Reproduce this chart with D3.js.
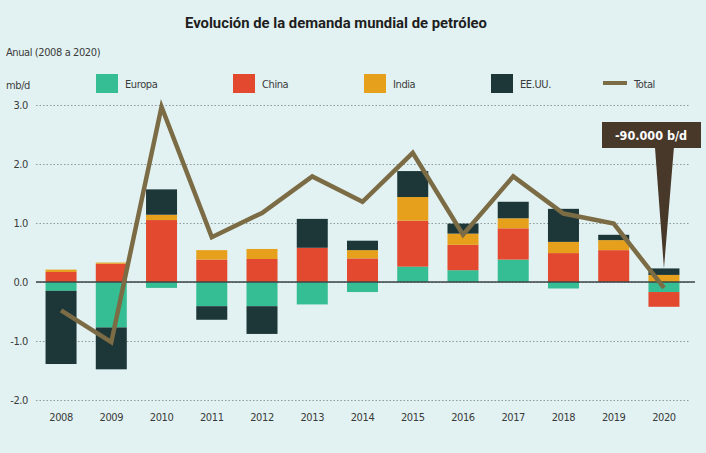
<!DOCTYPE html>
<html>
<head>
<meta charset="utf-8">
<script src="https://cdn.jsdelivr.net/npm/d3@7"></script>
<style>
  body { margin: 0; background: #e2f2f2; }
  svg { display: block; }
  .tick-label { font-family: "DejaVu Sans Condensed", "DejaVu Sans", sans-serif; font-stretch: condensed; font-size: 11px; letter-spacing: -0.4px; fill: #3b3b3b; }
</style>
</head>
<body>
<svg id="chart"></svg>
<script>
// data (mb/d)
const years = [2008, 2009, 2010, 2011, 2012, 2013, 2014, 2015, 2016, 2017, 2018, 2019, 2020];
const europa = [-0.15, -0.77, -0.10, -0.41, -0.41, -0.38, -0.17, 0.26, 0.20, 0.38, -0.11, 0.00, -0.17];
const china  = [0.17, 0.31, 1.05, 0.38, 0.39, 0.58, 0.40, 0.78, 0.43, 0.53, 0.49, 0.54, -0.25];
const india  = [0.04, 0.02, 0.09, 0.16, 0.17, 0.00, 0.14, 0.40, 0.19, 0.17, 0.19, 0.17, 0.12];
const eeuu   = [-1.24, -0.71, 0.43, -0.23, -0.47, 0.49, 0.16, 0.44, 0.17, 0.28, 0.56, 0.09, 0.11];
const total  = [-0.48, -1.02, 2.97, 0.76, 1.17, 1.79, 1.36, 2.19, 0.80, 1.79, 1.16, 0.99, -0.10];
const yTicks = [-2, -1, 0, 1, 2, 3];

const seriesKeys = ['Europa', 'China', 'India', 'EE.UU.'];
const colors = { 'Europa': '#35bd93', 'China': '#e2492f', 'India': '#e7a01c', 'EE.UU.': '#1d3638' };
const lineColor = '#7b6c45';

const width = 706, height = 453;

const svg = d3.select('#chart')
  .attr('width', width)
  .attr('height', height);

// table for the stack
const table = years.map((y, i) => ({
  year: y, 'Europa': europa[i], 'China': china[i], 'India': india[i], 'EE.UU.': eeuu[i]
}));

const stacked = d3.stack()
  .keys(seriesKeys)
  .offset(d3.stackOffsetDiverging)(table);

// scales
const xScale = d3.scaleBand()
  .domain(years)
  .range([36, 689])
  .paddingInner(0.383)
  .paddingOuter(0.19);

const yScale = d3.scaleLinear()
  .domain([-2, 3])
  .range([400, 105]);

// title + subtitle
svg.append('text')
  .attr('x', 336).attr('y', 28)
  .attr('text-anchor', 'middle')
  .attr('font-family', 'Roboto, sans-serif')
  .attr('font-weight', 'bold')
  .attr('font-size', 15)
  .attr('textLength', 302)
  .attr('lengthAdjust', 'spacingAndGlyphs')
  .attr('fill', '#1e1e1e')
  .text('Evolución de la demanda mundial de petróleo');

svg.append('text')
  .attr('class', 'tick-label')
  .attr('x', 6).attr('y', 56)
  .text('Anual (2008 a 2020)');

svg.append('text')
  .attr('class', 'tick-label')
  .attr('x', 6).attr('y', 89)
  .text('mb/d');

// legend
const legendX = [96, 233, 364, 491];
const legend = svg.append('g');
seriesKeys.forEach((k, i) => {
  legend.append('rect')
    .attr('x', legendX[i]).attr('y', 74)
    .attr('width', 22).attr('height', 19)
    .attr('fill', colors[k]);
  legend.append('text')
    .attr('class', 'tick-label')
    .attr('x', legendX[i] + 29).attr('y', 88)
    .text(k);
});
legend.append('line')
  .attr('x1', 603).attr('x2', 627)
  .attr('y1', 83).attr('y2', 83)
  .attr('stroke', lineColor).attr('stroke-width', 4);
legend.append('text')
  .attr('class', 'tick-label')
  .attr('x', 634).attr('y', 88)
  .text('Total');

// y axis: dotted grid + labels (plain hyphen for negatives, as printed)
const yAxis = d3.axisLeft(yScale)
  .tickValues(yTicks)
  .tickSize(-(689 - 36))
  .tickFormat(d => d3.format('.1f')(d).replace('−', '-'));

const yAxisG = svg.append('g')
  .attr('transform', 'translate(36,0)')
  .call(yAxis);

yAxisG.select('.domain').remove();
yAxisG.selectAll('.tick line')
  .attr('stroke', '#8c9a9a')
  .attr('stroke-dasharray', '1.5,2')
  .attr('stroke-width', 1);
yAxisG.selectAll('.tick text')
  .attr('class', 'tick-label')
  .attr('x', -8)
  .attr('dy', '0.32em');

// bars
svg.append('g')
  .selectAll('g')
  .data(stacked)
  .join('g')
    .attr('fill', d => colors[d.key])
  .selectAll('rect')
  .data(d => d)
  .join('rect')
    .attr('x', d => xScale(d.data.year))
    .attr('width', xScale.bandwidth())
    .attr('y', d => yScale(Math.max(d[0], d[1])))
    .attr('height', d => Math.abs(yScale(d[0]) - yScale(d[1])));

// zero line
svg.append('line')
  .attr('x1', 36).attr('x2', 695)
  .attr('y1', yScale(0)).attr('y2', yScale(0))
  .attr('stroke', '#3d4444')
  .attr('stroke-width', 1.5);

// total line
const line = d3.line()
  .x((d, i) => xScale(years[i]) + xScale.bandwidth() / 2)
  .y(d => yScale(d));

svg.append('path')
  .datum(total)
  .attr('d', line)
  .attr('fill', 'none')
  .attr('stroke', lineColor)
  .attr('stroke-width', 4.5)
  .attr('stroke-linejoin', 'miter');

// x axis labels
const xAxis = d3.axisBottom(xScale).tickSize(0).tickSizeOuter(0);
const xAxisG = svg.append('g')
  .attr('transform', 'translate(0,408)')
  .call(xAxis);
xAxisG.select('.domain').remove();
xAxisG.selectAll('.tick text')
  .attr('class', 'tick-label')
  .attr('dy', '0.9em');

// annotation for 2020
const last = years.length - 1;
const cx = xScale(years[last]) + xScale.bandwidth() / 2;
const topLast = d3.max(stacked, s => s[last][1]);
const boxTop = 122, boxBottom = 148;

svg.append('path')
  .attr('d', `M${cx - 9},${boxBottom - 1} L${cx + 10},${boxBottom - 1} L${cx},${yScale(topLast)} Z`)
  .attr('fill', '#47382a');

svg.append('rect')
  .attr('x', 602).attr('y', boxTop)
  .attr('width', 99).attr('height', boxBottom - boxTop)
  .attr('fill', '#47382a');

svg.append('text')
  .attr('x', 651).attr('y', 140)
  .attr('text-anchor', 'middle')
  .attr('font-family', '"DejaVu Sans Condensed", "DejaVu Sans", sans-serif')
  .attr('font-stretch', 'condensed')
  .attr('font-weight', 'bold')
  .attr('font-size', 12.5)
  .attr('fill', '#ffffff')
  .text('-90.000 b/d');
</script>
</body>
</html>
